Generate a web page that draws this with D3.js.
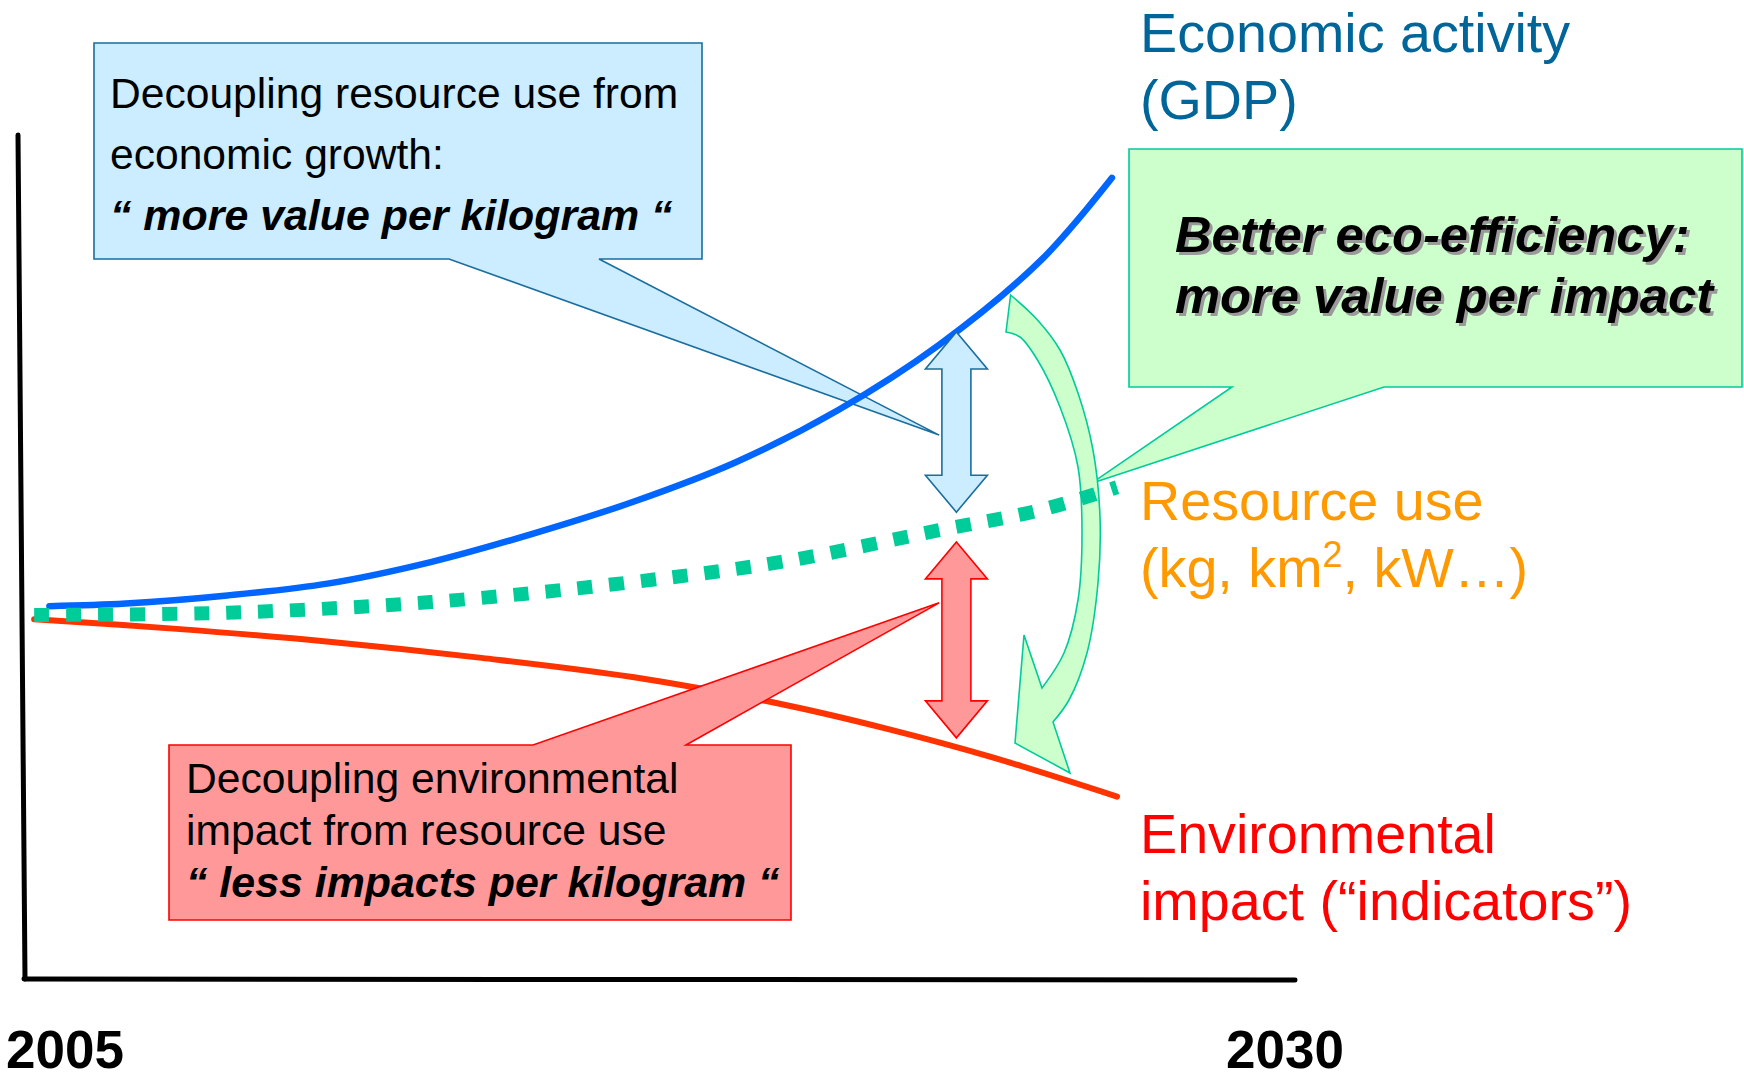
<!DOCTYPE html>
<html>
<head>
<meta charset="utf-8">
<script src="https://cdn.jsdelivr.net/npm/d3@7"></script>
<style>
body { margin: 0; background: #fff; }
svg { display: block; font-family: "Liberation Sans", Arial, sans-serif; }
</style>
</head>
<body>
<svg id="chart" width="1744" height="1079"></svg>
<script>
// values (index, start level ~100)
var yearLabels = [2005, 2030];

var gdpYears = [2005.5, 2007, 2009, 2011, 2013, 2015, 2017, 2019, 2021, 2023, 2025, 2026.4];
var gdpValues = [101.6, 102.3, 104.5, 107.8, 113.6, 121.3, 130.1, 140.8, 154.9, 172.8, 195.8, 218.3];

var resourceYears = [2005.2, 2009, 2013, 2017, 2020, 2023, 2025, 2026.5];
var resourceValues = [99.2, 99.8, 102.7, 108.2, 113.9, 122.3, 127.8, 134.0];

var impactYears = [2005.2, 2008, 2011, 2014, 2017, 2020, 2022, 2024, 2026.5];
var impactValues = [98.0, 95.4, 91.9, 87.5, 82.2, 74.6, 68.1, 60.6, 49.7];

var seriesLabels = [
    ['Economic activity', '(GDP)'],
    ['Resource use', '(kg, km', '2', ', kW\u2026)'],
    ['Environmental', 'impact (\u201Cindicators\u201D)']
];

var svg = d3.select('#chart');

var x = d3.scaleLinear().domain([2005, 2030]).range([24, 1295]);
var y = d3.scaleLinear().domain([0, 100]).range([979, 612]);

function zip(xs, ys) {
    return xs.map(function (d, i) { return [d, ys[i]]; });
}

var line = d3.line()
    .x(function (d) { return x(d[0]); })
    .y(function (d) { return y(d[1]); })
    .curve(d3.curveCatmullRom);

// callout box with a pointer (side = 'bottom' or 'top')
function callout(box, baseL, baseR, tip, side, fill, stroke) {
    var p = d3.path();
    if (side == 'bottom') {
        p.moveTo(box[0], box[1]);
        p.lineTo(box[2], box[1]);
        p.lineTo(box[2], box[3]);
        p.lineTo(baseR, box[3]);
        p.lineTo(tip[0], tip[1]);
        p.lineTo(baseL, box[3]);
        p.lineTo(box[0], box[3]);
    } else {
        p.moveTo(box[0], box[1]);
        p.lineTo(baseL, box[1]);
        p.lineTo(tip[0], tip[1]);
        p.lineTo(baseR, box[1]);
        p.lineTo(box[2], box[1]);
        p.lineTo(box[2], box[3]);
        p.lineTo(box[0], box[3]);
    }
    p.closePath();
    svg.append('path')
        .attr('d', p.toString())
        .attr('fill', fill)
        .attr('stroke', stroke)
        .attr('stroke-width', 1.6);
}

function doubleArrow(cx, y1, y2, fill, stroke) {
    var hw = 31, hl = 37, sw = 14.5;
    var pts = [
        [cx, y1], [cx + hw, y1 + hl], [cx + sw, y1 + hl], [cx + sw, y2 - hl],
        [cx + hw, y2 - hl], [cx, y2], [cx - hw, y2 - hl], [cx - sw, y2 - hl],
        [cx - sw, y1 + hl], [cx - hw, y1 + hl]
    ];
    svg.append('polygon')
        .attr('points', pts.map(function (d) { return d.join(','); }).join(' '))
        .attr('fill', fill)
        .attr('stroke', stroke)
        .attr('stroke-width', 1.6);
}

function textBlock(lines, xPos, baselines, size, color, weight, style) {
    lines.forEach(function (t, i) {
        svg.append('text')
            .attr('x', xPos)
            .attr('y', baselines[i])
            .attr('font-size', size)
            .attr('fill', color)
            .attr('font-weight', weight || 'normal')
            .attr('font-style', style || 'normal')
            .text(t);
    });
}

// blue callout (under the lines)
callout([94, 43, 702, 259], 449, 599, [x(2023), y(148.2)], 'bottom', '#CCECFF', '#1A6E9E');
textBlock(['Decoupling resource use from', 'economic growth:'], 110, [108, 169], 42.6, '#000');
textBlock(['\u201C more value per kilogram \u201C'], 110, [230], 42.9, '#000', 'bold', 'italic');

// green callout
callout([1129, 149, 1742, 387], 1232, 1384, [x(2026), y(135.1)], 'bottom', '#CCFFCC', '#00CC99');
var greenText = ['Better eco-efficiency:', 'more value per impact'];
textBlock(greenText, 1178, [255, 316], 50.7, '#9a9a9a', 'bold', 'italic');
textBlock(greenText, 1175, [252, 313], 50.7, '#000', 'bold', 'italic');

// curved arrow: better eco-efficiency
var outer = [[1010.6, 295], [1037.5, 320], [1060, 350], [1078, 393], [1093, 450], [1100, 517],
             [1098, 583], [1087, 653], [1069, 700], [1053, 722]];
var inner = [[1042, 688], [1064, 653], [1078, 600], [1082, 533], [1078, 467], [1060, 407],
             [1037.5, 360], [1020, 337], [1006, 332]];
var smooth = d3.line().curve(d3.curveCatmullRom);
var arrowPath = smooth(outer) +
    'L1070,773L1015,743L1024,635L1042,688' +
    smooth(inner).replace(/^M/, 'L') + 'Z';
svg.append('path')
    .attr('d', arrowPath)
    .attr('fill', '#CCFFCC')
    .attr('stroke', '#00CC99')
    .attr('stroke-width', 1.6)
    .attr('stroke-linejoin', 'miter');

// axes
svg.append('line')
    .attr('x1', x(2005) - 6).attr('y1', y(230))
    .attr('x2', x(2005) + 1).attr('y2', y(0))
    .attr('stroke', '#000').attr('stroke-width', 5).attr('stroke-linecap', 'round');
svg.append('line')
    .attr('x1', x(2005)).attr('y1', y(0))
    .attr('x2', x(2030)).attr('y2', y(0) + 1)
    .attr('stroke', '#000').attr('stroke-width', 5).attr('stroke-linecap', 'round');

svg.selectAll('text.year')
    .data(yearLabels).enter()
    .append('text')
    .attr('class', 'year')
    .attr('x', function (d, i) { return i == 0 ? x(d) - 18 : x(d) - 10; })
    .attr('y', 1068)
    .attr('text-anchor', function (d, i) { return i == 0 ? 'start' : 'middle'; })
    .attr('font-size', 53)
    .attr('font-weight', 'bold')
    .attr('fill', '#000')
    .text(function (d) { return d; });

// series lines
svg.append('path')
    .attr('d', line(zip(impactYears, impactValues)))
    .attr('fill', 'none')
    .attr('stroke', '#FF3300')
    .attr('stroke-width', 6)
    .attr('stroke-linecap', 'round');

svg.append('path')
    .attr('d', line(zip(gdpYears, gdpValues)))
    .attr('fill', 'none')
    .attr('stroke', '#0066FF')
    .attr('stroke-width', 6.5)
    .attr('stroke-linecap', 'round');

svg.append('path')
    .attr('d', line(zip(resourceYears, resourceValues)))
    .attr('fill', 'none')
    .attr('stroke', '#00CC99')
    .attr('stroke-width', 14)
    .attr('stroke-dasharray', '15,17');

// red callout (over the red line)
callout([169, 745, 791, 920], 533, 686, [x(2023), y(102.5)], 'top', '#FF9999', '#FF0000');
textBlock(['Decoupling environmental', 'impact from resource use'], 186, [793, 845], 42.6, '#000');
textBlock(['\u201C less impacts per kilogram \u201C'], 186, [897], 42.9, '#000', 'bold', 'italic');

// double arrows between the curves
var arrowYear = 2023.34;
doubleArrow(x(arrowYear), y(176.3), y(127.2), '#CCECFF', '#1A6E9E');
doubleArrow(x(arrowYear), y(119.1), y(65.7), '#FF9999', '#FF0000');

// series labels
textBlock(seriesLabels[0], 1140, [52, 119], 55.7, '#006699');
textBlock([seriesLabels[1][0]], 1140, [520], 55.7, '#FF9900');
var unitText = svg.append('text')
    .attr('x', 1140)
    .attr('y', 587)
    .attr('font-size', 55.7)
    .attr('fill', '#FF9900');
unitText.append('tspan').text(seriesLabels[1][1]);
unitText.append('tspan').attr('dy', -20).attr('font-size', 36).text(seriesLabels[1][2]);
unitText.append('tspan').attr('dy', 20).text(seriesLabels[1][3]);
textBlock(seriesLabels[2], 1140, [853, 920], 55.7, '#FF0000');
</script>
</body>
</html>
